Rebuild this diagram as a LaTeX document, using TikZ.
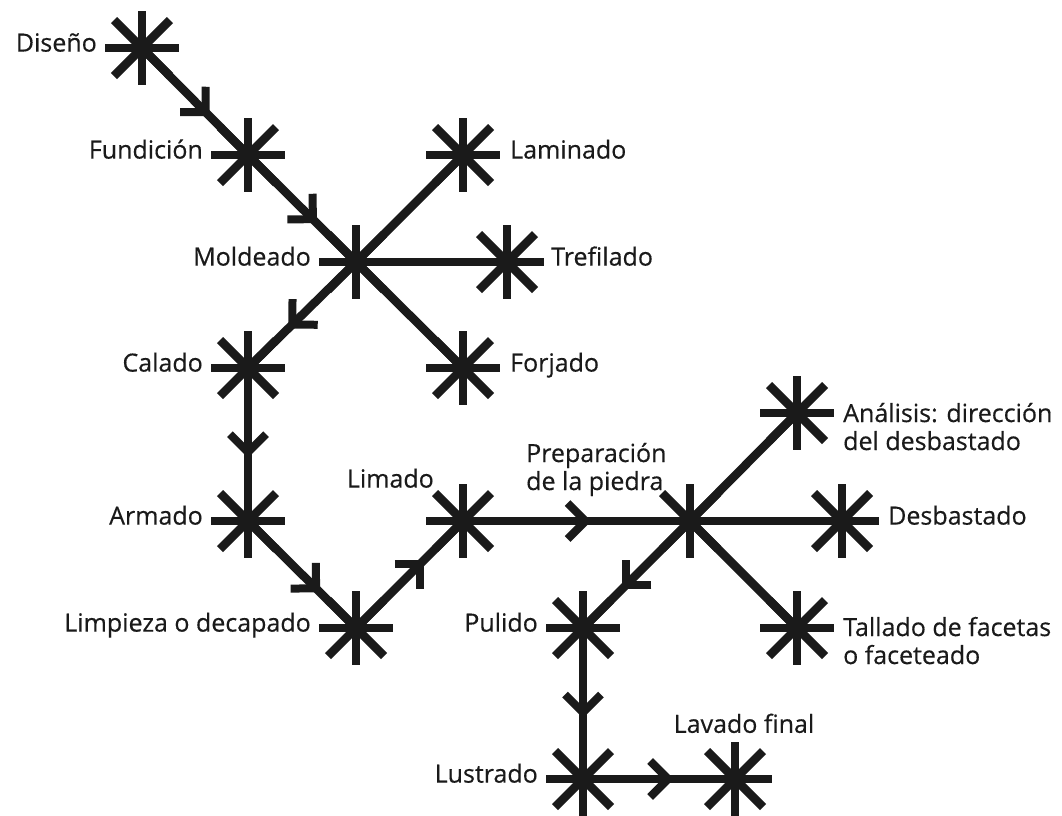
\documentclass[tikz,border=0pt]{standalone}
\usepackage{fontspec}
\setmainfont{Open Sans}[FakeBold=0.4]
\usetikzlibrary{positioning, calc, decorations.markings}
\definecolor{TrackInk}{RGB}{26,26,26}
\tikzset{
    track/.style={
        line width=8.5pt, TrackInk
    },
    flow/.style={
        track, postaction={decorate},
        decoration={markings, mark=at position #1 with {
            \draw[line width=8pt, TrackInk, line join=miter] (-18,-18) -- (0,0) -- (-18,18);
        }}
    },
    flow/.default=0.6,
    stlabel/.style={
        font=\fontsize{25}{28}\selectfont, text=TrackInk, inner sep=0pt
    },
    stname/.style={
        stlabel, text height=0.714em, text depth=0pt
    }
}
\newcommand{\drawstar}[1]{
    \draw[track] ($(#1)+(0,-37)$) -- ($(#1)+(0,37)$);
    \draw[track] ($(#1)+(-37,0)$) -- ($(#1)+(37,0)$);
    \draw[track] ($(#1)+(-28,-28)$) -- ($(#1)+(28,28)$);
    \draw[track] ($(#1)+(-28,28)$) -- ($(#1)+(28,-28)$);
}

\begin{document}
\begin{tikzpicture}[x=1pt, y=-1pt]
    \useasboundingbox (0,0) rectangle (1062,815);

    % --- ESTACIONES ---
    \coordinate (diseno) at (142,48);
    \coordinate (fundicion) at (248,155);
    \coordinate (moldeado) at (356,262);
    \coordinate (laminado) at (463,155);
    \coordinate (trefilado) at (507,262);
    \coordinate (forjado) at (463,368);
    \coordinate (calado) at (248,368);
    \coordinate (armado) at (248,521);
    \coordinate (limpieza) at (356,628);
    \coordinate (limado) at (463,521);
    \coordinate (preparacion) at (690,521);
    \coordinate (analisis) at (797,413);
    \coordinate (desbastado) at (842,521);
    \coordinate (tallado) at (797,628);
    \coordinate (pulido) at (583,628);
    \coordinate (lustrado) at (583,779);
    \coordinate (lavado) at (735,779);

    % --- VÍAS ---
    \draw[flow] (diseno) -- (fundicion);
    \draw[flow] (fundicion) -- (moldeado);
    \draw[track] (moldeado) -- (laminado);
    \draw[track] (moldeado) -- (trefilado);
    \draw[track] (moldeado) -- (forjado);
    \draw[flow=0.59] (moldeado) -- (calado);
    \draw[flow=0.55] (calado) -- (armado);
    \draw[flow=0.63] (armado) -- (limpieza);
    \draw[flow] (limpieza) -- (limado);
    \draw[flow=0.54] (limado) -- (preparacion);
    \draw[track] (preparacion) -- (analisis);
    \draw[track] (preparacion) -- (desbastado);
    \draw[track] (preparacion) -- (tallado);
    \draw[flow] (preparacion) -- (pulido);
    \draw[flow=0.56] (pulido) -- (lustrado);
    \draw[flow=0.56] (lustrado) -- (lavado);

    % --- ASTERISCOS ---
    \foreach \s in {diseno, fundicion, moldeado, laminado, trefilado, forjado,
                    calado, armado, limpieza, limado, preparacion, analisis,
                    desbastado, tallado, pulido, lustrado, lavado}
        {\drawstar{\s}}

    % --- NOMBRES ---
    \node[stname, left=45pt of diseno] (t-diseno) {Diseño};
    \node[stname, left=45pt of fundicion] (t-fundicion) {Fundición};
    \node[stname, left=45pt of moldeado] (t-moldeado) {Moldeado};
    \node[stname, right=47pt of laminado] (t-laminado) {Laminado};
    \node[stname, right=44pt of trefilado] (t-trefilado) {Trefilado};
    \node[stname, right=47pt of forjado] (t-forjado) {Forjado};
    \node[stname, left=45pt of calado] (t-calado) {Calado};
    \node[stname, left=45pt of armado] (t-armado) {Armado};
    \node[stname, left=45pt of limpieza] (t-limpieza) {Limpieza o decapado};
    \node[stname, anchor=east] (t-limado) at ($(limado)+(-29,-37)$) {Limado};
    \node[stlabel, align=left, anchor=base west] (t-preparacion)
        at ($(preparacion)+(-164,-31)$) {Preparación\\de la piedra};
    \node[stlabel, align=left, anchor=base west] (t-analisis)
        at ($(analisis)+(46,37)$) {Análisis: dirección\\del desbastado};
    \node[stname, right=46pt of desbastado] (t-desbastado) {Desbastado};
    \node[stlabel, align=left, anchor=base west] (t-tallado)
        at ($(tallado)+(46,36)$) {Tallado de facetas\\o faceteado};
    \node[stname, left=45pt of pulido] (t-pulido) {Pulido};
    \node[stname, left=45pt of lustrado] (t-lustrado) {Lustrado};
    \node[stname, above=46pt of lavado, xshift=9pt] (t-lavado) {Lavado final};

\end{tikzpicture}
\end{document}
